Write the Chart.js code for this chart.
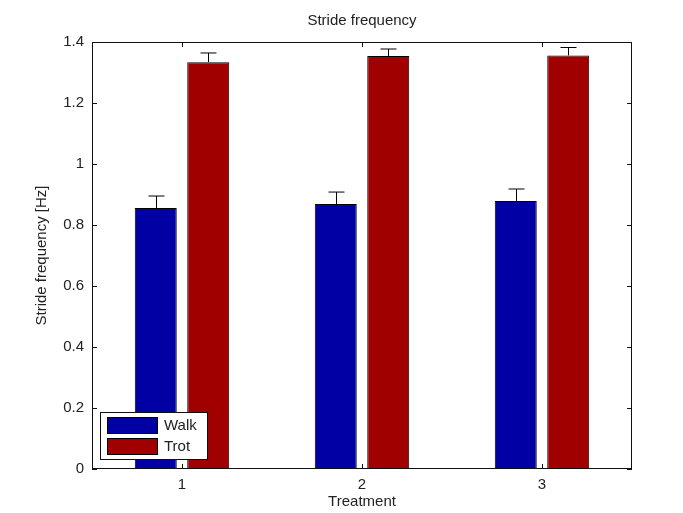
<!DOCTYPE html>
<html>
<head>
<meta charset="utf-8">
<script src="https://cdn.jsdelivr.net/npm/chart.js@4.4.0/dist/chart.umd.min.js"></script>
<style>
    body { margin: 0; background: #fff; }
    canvas { display: block; }
</style>
</head>
<body>
<canvas id="stride-chart" width="683" height="513"></canvas>
<script>
// data
var treatments = ["1", "2", "3"];
var walkValues = [0.856, 0.869, 0.879];
var walkErrors = [0.039, 0.039, 0.039];
var trotValues = [1.334, 1.354, 1.356];
var trotErrors = [0.030, 0.023, 0.026];
var yTicks = [0, 0.2, 0.4, 0.6, 0.8, 1, 1.2, 1.4];

var textFont = { family: "'Liberation Sans', Arial, sans-serif", size: 15 };
var textColor = "#222";

// axes box + inward tick marks (matlab style)
var boxPlugin = {
    id: "box",
    afterDatasetsDraw: function (chart) {
        var ctx = chart.ctx;
        var area = chart.chartArea;
        var xScale = chart.scales.x;
        var yScale = chart.scales.y;
        ctx.save();
        ctx.strokeStyle = "#111";
        ctx.lineWidth = 1;
        ctx.strokeRect(area.left + 0.5, area.top + 0.5, area.right - area.left - 1, area.bottom - area.top - 1);
        ctx.beginPath();
        yTicks.forEach(function (v) {
            var py = Math.round(yScale.getPixelForValue(v)) + 0.5;
            ctx.moveTo(area.left, py);
            ctx.lineTo(area.left + 5, py);
            ctx.moveTo(area.right, py);
            ctx.lineTo(area.right - 5, py);
        });
        treatments.forEach(function (t, i) {
            var px = Math.round(xScale.getPixelForValue(i)) + 0.5;
            ctx.moveTo(px, area.bottom);
            ctx.lineTo(px, area.bottom - 5);
            ctx.moveTo(px, area.top);
            ctx.lineTo(px, area.top + 5);
        });
        ctx.stroke();
        ctx.restore();
    }
};

// upper error bars
var errorBarPlugin = {
    id: "errorBars",
    afterDatasetsDraw: function (chart) {
        var ctx = chart.ctx;
        var yScale = chart.scales.y;
        ctx.save();
        ctx.strokeStyle = "#000";
        ctx.lineWidth = 1;
        chart.data.datasets.forEach(function (ds, di) {
            var meta = chart.getDatasetMeta(di);
            meta.data.forEach(function (bar, i) {
                var top = yScale.getPixelForValue(ds.data[i] + ds.errors[i]);
                var x = Math.round(bar.x) + 0.5;
                ctx.beginPath();
                ctx.moveTo(x, bar.y);
                ctx.lineTo(x, top);
                ctx.moveTo(x - 8, top);
                ctx.lineTo(x + 8, top);
                ctx.stroke();
            });
        });
        ctx.restore();
    }
};

// legend box inside the axes, lower left
var insideLegendPlugin = {
    id: "insideLegend",
    afterDraw: function (chart) {
        var ctx = chart.ctx;
        var area = chart.chartArea;
        var bx = area.left + 8;
        var by = area.bottom - 57;
        ctx.save();
        ctx.fillStyle = "#fff";
        ctx.fillRect(bx, by, 108, 48);
        ctx.strokeStyle = "#111";
        ctx.lineWidth = 1;
        ctx.strokeRect(bx + 0.5, by + 0.5, 107, 47);
        ctx.font = textFont.size + "px " + textFont.family;
        ctx.textBaseline = "middle";
        chart.data.datasets.forEach(function (ds, i) {
            var sy = by + 5 + i * 21;
            ctx.fillStyle = ds.backgroundColor;
            ctx.fillRect(bx + 7, sy, 51, 17);
            ctx.strokeStyle = "#000";
            ctx.strokeRect(bx + 7.5, sy + 0.5, 50, 16);
            ctx.fillStyle = textColor;
            ctx.fillText(ds.label, bx + 64, sy + 9);
        });
        ctx.restore();
    }
};

var ctx = document.getElementById("stride-chart").getContext("2d");
var myChart = new Chart(ctx, {
    type: "bar",
    data: {
        labels: treatments,
        datasets: [{
            label: "Walk",
            data: walkValues,
            errors: walkErrors,
            backgroundColor: "rgb(0, 0, 165)",
            borderColor: "#000",
            borderWidth: 1,
            categoryPercentage: 0.583,
            barPercentage: 0.8
        }, {
            label: "Trot",
            data: trotValues,
            errors: trotErrors,
            backgroundColor: "rgb(160, 0, 0)",
            borderColor: "#000",
            borderWidth: 1,
            categoryPercentage: 0.583,
            barPercentage: 0.8
        }]
    },
    options: {
        responsive: false,
        animation: false,
        layout: { padding: { left: 41, right: 0, top: 0, bottom: 0 } },
        plugins: {
            legend: { display: false },
            tooltip: { enabled: false },
            title: {
                display: true,
                text: "Stride frequency",
                color: textColor,
                font: { family: textFont.family, size: 15, weight: "normal" },
                padding: { top: 12, bottom: 12 }
            }
        },
        scales: {
            x: {
                offset: true,
                grid: { display: false, drawTicks: false },
                border: { display: false },
                ticks: { padding: 7, color: textColor, font: textFont },
                title: {
                    display: true,
                    text: "Treatment",
                    color: textColor,
                    font: textFont,
                    padding: { top: 0, bottom: 2 }
                },
                afterFit: function (scale) { scale.height = 44; }
            },
            y: {
                position: "left",
                min: 0,
                max: 1.4,
                grid: { display: false, drawTicks: false },
                border: { display: false },
                ticks: {
                    stepSize: 0.2,
                    padding: 8,
                    color: textColor,
                    font: textFont,
                    callback: function (value) {
                        return String(Math.round(value * 10) / 10);
                    }
                },
                title: {
                    display: true,
                    text: "Stride frequency [Hz]",
                    color: textColor,
                    font: textFont,
                    padding: { top: -8, bottom: 0 }
                },
                afterFit: function (scale) { scale.width = 51; }
            },
            yRight: {
                position: "right",
                min: 0,
                max: 1.4,
                grid: { display: false, drawTicks: false },
                border: { display: false },
                ticks: { display: false },
                afterFit: function (scale) { scale.width = 51; }
            }
        }
    },
    plugins: [boxPlugin, errorBarPlugin, insideLegendPlugin]
});
</script>
</body>
</html>
